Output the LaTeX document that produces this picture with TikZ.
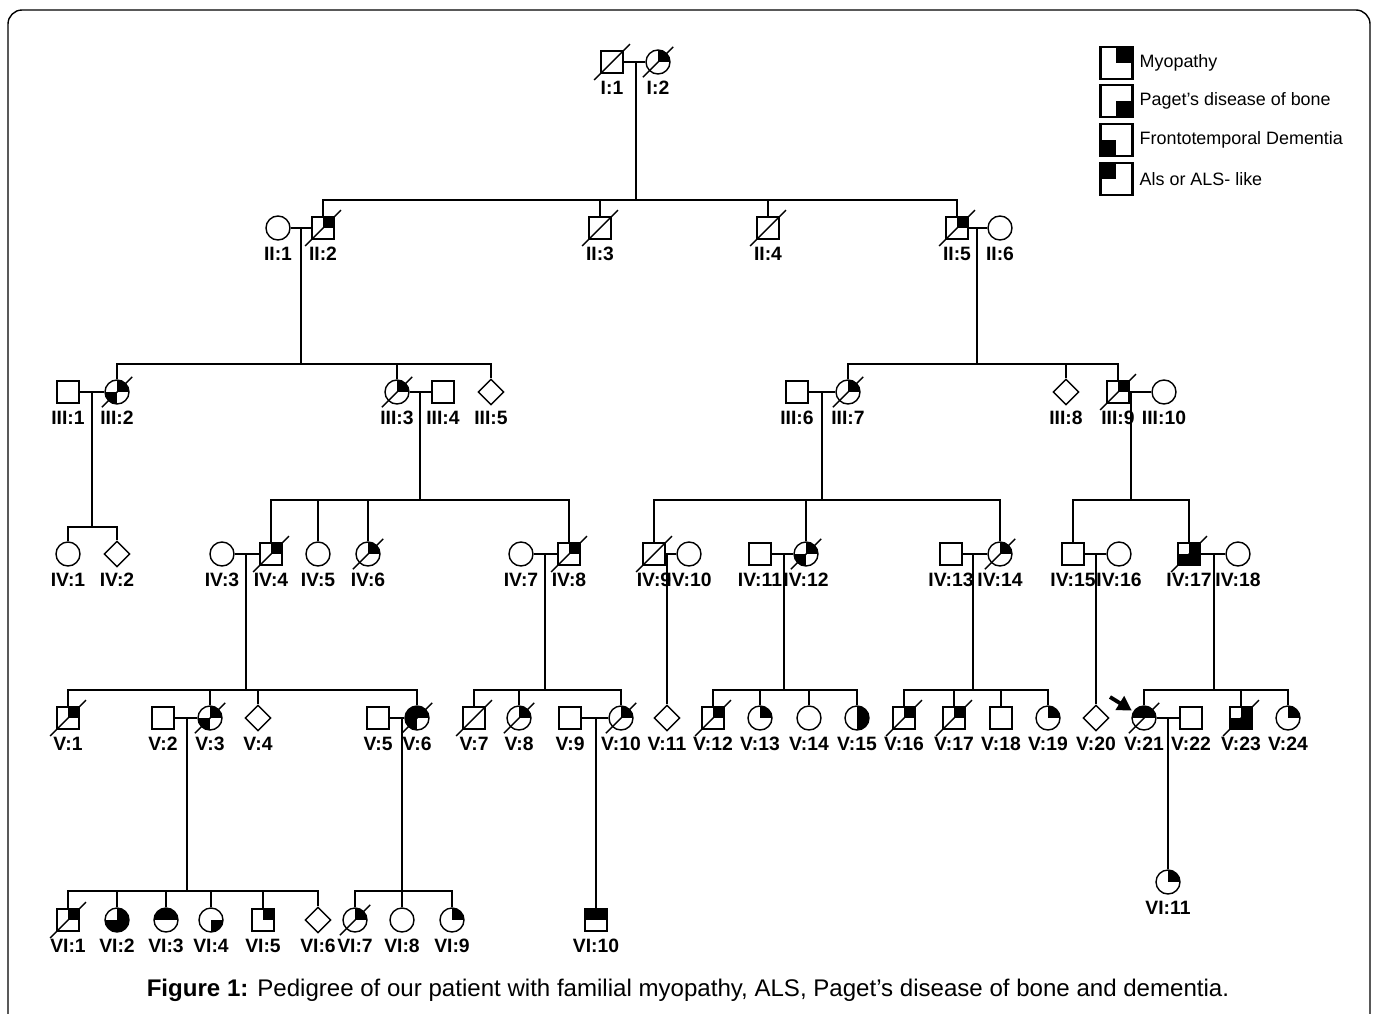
\documentclass[tikz,border=0pt]{standalone}
\usepackage{fontspec}
\setmainfont{Liberation Sans}
\usetikzlibrary{shapes.geometric,arrows.meta}

\newcommand{\idfont}{\fontsize{11}{12}\selectfont\bfseries}
\newcommand{\legfont}{\fontsize{10.2}{12}\selectfont}

\tikzset{
  ind/.style={draw,line width=0.8pt,inner sep=0pt,fill=white},
  male/.style={ind,rectangle,minimum size=0.44cm},
  female/.style={ind,circle,minimum size=0.48cm},
  unknown/.style={ind,diamond,minimum size=0.52cm},
  q/.style={path picture={\foreach \qd in {#1}
      \fill[black] (path picture bounding box.center) rectangle (path picture bounding box.\qd);}},
  dead/.style={append after command={(\tikzlastnode.south west)
      edge[draw,line width=0.8pt,shorten <=-5pt,shorten >=-5pt] (\tikzlastnode.north east)}},
  id/.style={append after command={node[font=\idfont,inner sep=0pt]
      at ([yshift=-0.52cm]\tikzlastnode.center) {#1}}},
  line/.style={line width=1pt},
  legbox/.style={draw,line width=1.7pt,rectangle,minimum size=0.64cm,inner sep=0pt,fill=white,
    label distance=2pt}
}

\begin{document}
\begin{tikzpicture}[x=0.02cm,y=-0.02cm]
\useasboundingbox (0,0) rectangle (1376,1014);

% frame
\draw[line width=0.8pt,rounded corners=8pt] (8,1014) -- (8,10) -- (1370,10) -- (1370,1014);

% legend
\node[legbox,q={north east},label={[font=\legfont]right:Myopathy}] (lg1) at (1116,63) {};
\node[legbox,q={south east},label={[font=\legfont]right:Paget’s disease of bone}] (lg2) at (1116,101) {};
\node[legbox,q={south west},label={[font=\legfont]right:Frontotemporal Dementia}] (lg3) at (1116,140) {};
\node[legbox,q={north west},label={[font=\legfont]right:Als or ALS- like}] (lg4) at (1116,179) {};

% generation I
\node[male,dead,id=I:1] (i1) at (612,62) {};
\node[female,dead,q={north east},id=I:2] (i2) at (658,62) {};
\coordinate (d1) at (636,200);
\draw[line] (i1) -- (i2);
\draw[line] (d1 |- i1) -- (d1);

% generation II
\node[female,id=II:1] (ii1) at (278,228) {};
\node[male,dead,q={north east},id=II:2] (ii2) at (323,228) {};
\node[male,dead,id=II:3] (ii3) at (600,228) {};
\node[male,dead,id=II:4] (ii4) at (768,228) {};
\node[male,dead,q={north east},id=II:5] (ii5) at (957,228) {};
\node[female,id=II:6] (ii6) at (1000,228) {};
\draw[line] (ii2) |- (d1) -| (ii5);
\foreach \k in {ii3,ii4} \draw[line] (\k) -- (\k |- d1);
\draw[line] (ii1) -- (ii2);
\draw[line] (ii5) -- (ii6);
\coordinate (d2) at (301,364);
\coordinate (d3) at (977,364);
\draw[line] (d2 |- ii1) -- (d2);
\draw[line] (d3 |- ii5) -- (d3);

% generation III
\node[male,id=III:1] (iii1) at (68,392) {};
\node[female,dead,q={north east,south west},id=III:2] (iii2) at (117,392) {};
\node[female,dead,q={north east},id=III:3] (iii3) at (397,392) {};
\node[male,id=III:4] (iii4) at (443,392) {};
\node[unknown,id=III:5] (iii5) at (491,392) {};
\node[male,id=III:6] (iii6) at (797,392) {};
\node[female,dead,q={north east},id=III:7] (iii7) at (848,392) {};
\node[unknown,id=III:8] (iii8) at (1066,392) {};
\node[male,dead,q={north east},id=III:9] (iii9) at (1118,392) {};
\node[female,id=III:10] (iii10) at (1164,392) {};
\draw[line] (iii2) |- (d2) -| (iii5);
\draw[line] (iii3) -- (iii3 |- d2);
\draw[line] (iii7) |- (d3) -| (iii9);
\draw[line] (iii8) -- (iii8 |- d3);
\draw[line] (iii1) -- (iii2);
\draw[line] (iii3) -- (iii4);
\draw[line] (iii6) -- (iii7);
\draw[line] (iii9) -- (iii10);
\coordinate (d4) at (92,527);
\coordinate (d5) at (420,500);
\coordinate (d6) at (822,500);
\coordinate (d7) at (1131,500);
\draw[line] (d4 |- iii1) -- (d4);
\draw[line] (d5 |- iii3) -- (d5);
\draw[line] (d6 |- iii6) -- (d6);
\draw[line] (d7 |- iii9) -- (d7);

% generation IV
\node[female,id=IV:1] (iv1) at (68,554) {};
\node[unknown,id=IV:2] (iv2) at (117,554) {};
\node[female,id=IV:3] (iv3) at (222,554) {};
\node[male,dead,q={north east},id=IV:4] (iv4) at (271,554) {};
\node[female,id=IV:5] (iv5) at (318,554) {};
\node[female,dead,q={north east},id=IV:6] (iv6) at (368,554) {};
\node[female,id=IV:7] (iv7) at (521,554) {};
\node[male,dead,q={north east},id=IV:8] (iv8) at (569,554) {};
\node[male,dead,id=IV:9] (iv9) at (654,554) {};
\node[female,id=IV:10] (iv10) at (689,554) {};
\node[male,id=IV:11] (iv11) at (760,554) {};
\node[female,dead,q={north east,south west},id=IV:12] (iv12) at (806,554) {};
\node[male,id=IV:13] (iv13) at (951,554) {};
\node[female,dead,q={north east},id=IV:14] (iv14) at (1000,554) {};
\node[male,id=IV:15] (iv15) at (1073,554) {};
\node[female,id=IV:16] (iv16) at (1119,554) {};
\node[male,dead,q={north east,south west,south east},id=IV:17] (iv17) at (1189,554) {};
\node[female,id=IV:18] (iv18) at (1238,554) {};
\draw[line] (iv1) |- (d4) -| (iv2);
\draw[line] (iv4) |- (d5) -| (iv8);
\foreach \k in {iv5,iv6} \draw[line] (\k) -- (\k |- d5);
\draw[line] (iv9) |- (d6) -| (iv14);
\draw[line] (iv12) -- (iv12 |- d6);
\draw[line] (iv15) |- (d7) -| (iv17);
\draw[line] (iv3) -- (iv4);
\draw[line] (iv7) -- (iv8);
\draw[line] (iv9) -- (iv10);
\draw[line] (iv11) -- (iv12);
\draw[line] (iv13) -- (iv14);
\draw[line] (iv15) -- (iv16);
\draw[line] (iv17) -- (iv18);
\coordinate (d8) at (246,690);
\coordinate (d9) at (545,690);
\coordinate (d10) at (784,690);
\coordinate (d11) at (973,690);
\coordinate (d12) at (1214,690);
\draw[line] (d8 |- iv3) -- (d8);
\draw[line] (d9 |- iv7) -- (d9);
\draw[line] (d10 |- iv11) -- (d10);
\draw[line] (d11 |- iv13) -- (d11);
\draw[line] (d12 |- iv17) -- (d12);

% generation V
\node[male,dead,q={north east},id=V:1] (v1) at (68,718) {};
\node[male,id=V:2] (v2) at (163,718) {};
\node[female,dead,q={north east,south west},id=V:3] (v3) at (210,718) {};
\node[unknown,id=V:4] (v4) at (258,718) {};
\node[male,id=V:5] (v5) at (378,718) {};
\node[female,dead,q={north west,north east,south west},id=V:6] (v6) at (417,718) {};
\node[male,dead,id=V:7] (v7) at (474,718) {};
\node[female,dead,q={north east},id=V:8] (v8) at (519,718) {};
\node[male,id=V:9] (v9) at (570,718) {};
\node[female,dead,q={north east},id=V:10] (v10) at (621,718) {};
\node[unknown,id=V:11] (v11) at (667,718) {};
\node[male,dead,q={north east},id=V:12] (v12) at (713,718) {};
\node[female,q={north east},id=V:13] (v13) at (760,718) {};
\node[female,id=V:14] (v14) at (809,718) {};
\node[female,q={north east,south east},id=V:15] (v15) at (857,718) {};
\node[male,dead,q={north east},id=V:16] (v16) at (904,718) {};
\node[male,dead,q={north east},id=V:17] (v17) at (954,718) {};
\node[male,id=V:18] (v18) at (1001,718) {};
\node[female,q={north east},id=V:19] (v19) at (1048,718) {};
\node[unknown,id=V:20] (v20) at (1096,718) {};
\node[female,dead,q={north west,north east},id=V:21] (v21) at (1144,718) {};
\node[male,id=V:22] (v22) at (1191,718) {};
\node[male,dead,q={north east,south west,south east},id=V:23] (v23) at (1241,718) {};
\node[female,q={north east},id=V:24] (v24) at (1288,718) {};
\draw[line] (v1) |- (d8) -| (v6);
\foreach \k in {v3,v4} \draw[line] (\k) -- (\k |- d8);
\draw[line] (v7) |- (d9) -| (v10);
\draw[line] (v8) -- (v8 |- d9);
\draw[line] (v11 |- iv9) -- (v11);
\draw[line] (v12) |- (d10) -| (v15);
\foreach \k in {v13,v14} \draw[line] (\k) -- (\k |- d10);
\draw[line] (v16) |- (d11) -| (v19);
\foreach \k in {v17,v18} \draw[line] (\k) -- (\k |- d11);
\draw[line] (v20 |- iv15) -- (v20);
\draw[line] (v21) |- (d12) -| (v24);
\draw[line] (v23) -- (v23 |- d12);
\draw[line] (v2) -- (v3);
\draw[line] (v5) -- (v6);
\draw[line] (v9) -- (v10);
\draw[line] (v21) -- (v22);
\coordinate (d13) at (187,891);
\coordinate (d14) at (402,891);
\draw[line] (d13 |- v2) -- (d13);
\draw[line] (d14 |- v5) -- (d14);

% proband
\coordinate (pb) at (1110,697);
\draw[line width=2.2pt,-{Triangle[length=8pt,width=9pt]},shorten >=1pt] (pb) -- (v21);

% generation VI
\node[male,dead,q={north east},id=VI:1] (vi1) at (68,920) {};
\node[female,q={north east,south west,south east},id=VI:2] (vi2) at (117,920) {};
\node[female,q={north west,north east},id=VI:3] (vi3) at (166,920) {};
\node[female,q={south east},id=VI:4] (vi4) at (211,920) {};
\node[male,q={north east},id=VI:5] (vi5) at (263,920) {};
\node[unknown,id=VI:6] (vi6) at (318,920) {};
\node[female,dead,q={north east},id=VI:7] (vi7) at (355,920) {};
\node[female,id=VI:8] (vi8) at (402,920) {};
\node[female,q={north east},id=VI:9] (vi9) at (452,920) {};
\node[male,q={north west,north east},id=VI:10] (vi10) at (596,920) {};
\node[female,q={north east},id=VI:11] (vi11) at (1168,882) {};
\draw[line] (vi1) |- (d13) -| (vi6);
\foreach \k in {vi2,vi3,vi4,vi5} \draw[line] (\k) -- (\k |- d13);
\draw[line] (vi7) |- (d14) -| (vi9);
\draw[line] (vi8) -- (vi8 |- d14);
\draw[line] (vi10 |- v9) -- (vi10);
\draw[line] (vi11 |- v21) -- (vi11);

% caption
\node[font=\fontsize{13.7}{16}\selectfont] (cap) at (688,990)
  {\textbf{Figure 1:} Pedigree of our patient with familial myopathy, ALS, Paget’s disease of bone and dementia.};
\end{tikzpicture}
\end{document}
